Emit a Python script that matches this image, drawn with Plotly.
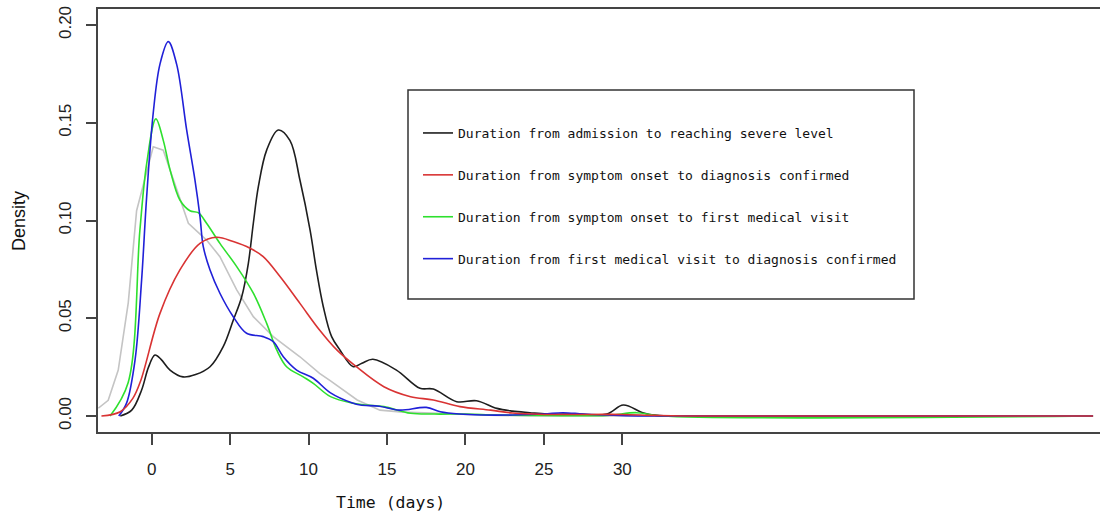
import plotly.graph_objects as go

# ---- data ----
black_x = [-2.0, -1.27, -0.64, -0.2, 0.21, 0.6, 1.17, 2.0, 2.8, 3.72, 4.56, 5.2, 5.74, 6.16, 6.48, 6.8, 7.33, 8.07, 8.81, 9.45, 10.1, 10.5, 10.94, 11.47, 12.0, 12.85, 13.4, 14.1, 15.6, 17.1, 17.95, 19.44, 20.7, 22.0, 23.0, 24.1, 25.2, 27.0, 29.0, 30.06, 31.3, 32.2, 34.0, 60.0]
black_y = [0.0, 0.003, 0.0133, 0.025, 0.0312, 0.029, 0.0235, 0.020, 0.0212, 0.0252, 0.0355, 0.049, 0.061, 0.078, 0.0986, 0.1173, 0.136, 0.1463, 0.141, 0.1207, 0.095, 0.0747, 0.0559, 0.0406, 0.0338, 0.0252, 0.027, 0.029, 0.0235, 0.0142, 0.0138, 0.0073, 0.0078, 0.0039, 0.0025, 0.0017, 0.001, 0.001, 0.001, 0.0056, 0.0017, 0.0003, 0.0, 0.0]

red_x = [-3.2, -2.0, -1.2, -0.7, 0.53, 1.8, 3.08, 4.14, 5.2, 6.27, 7.11, 8.18, 9.45, 10.7, 11.8, 13.0, 14.8, 16.5, 17.95, 19.65, 21.6, 23.0, 25.0, 28.0, 30.0, 32.0, 34.0, 60.0]
red_y = [0.0, 0.0022, 0.009, 0.018, 0.0525, 0.0747, 0.0883, 0.0914, 0.0892, 0.0858, 0.0815, 0.0713, 0.0576, 0.044, 0.0338, 0.0255, 0.015, 0.0099, 0.0082, 0.0048, 0.003, 0.0015, 0.0008, 0.0008, 0.0008, 0.0003, 0.0, 0.0]

green_x = [-2.65, -1.5, -0.75, -0.32, 0.27, 0.74, 1.17, 1.8, 2.44, 2.97, 3.5, 4.35, 5.42, 6.48, 7.33, 7.97, 8.6, 9.66, 10.3, 11.4, 12.85, 13.7, 14.8, 16.5, 18.0, 20.0, 22.0, 25.0, 29.0, 30.9, 32.5, 60.0]
green_y = [0.0, 0.017, 0.095, 0.129, 0.152, 0.141, 0.126, 0.1105, 0.105, 0.104, 0.0986, 0.0883, 0.0764, 0.0628, 0.0474, 0.0338, 0.0252, 0.020, 0.0167, 0.0099, 0.0065, 0.0056, 0.0048, 0.0014, 0.001, 0.001, 0.0005, 0.0003, 0.0003, 0.0017, 0.0, 0.0]

blue_x = [-2.1, -1.6, -1.06, -0.64, -0.32, 0.1, 0.53, 1.06, 1.59, 2.23, 2.76, 3.08, 3.29, 3.72, 4.35, 5.2, 6.05, 7.11, 7.75, 8.39, 9.24, 10.3, 11.4, 12.8, 13.3, 14.5, 15.8, 17.5, 18.4, 19.6, 21.0, 23.0, 25.0, 26.2, 27.5, 29.0, 31.0, 60.0]
blue_y = [0.0, 0.0066, 0.0286, 0.0696, 0.112, 0.155, 0.180, 0.1915, 0.180, 0.1463, 0.1207, 0.102, 0.0866, 0.0747, 0.0628, 0.0508, 0.0423, 0.0406, 0.038, 0.0303, 0.0235, 0.0193, 0.0118, 0.0066, 0.0056, 0.005, 0.003, 0.0044, 0.0022, 0.001, 0.0005, 0.0005, 0.001, 0.0017, 0.001, 0.0005, 0.0, 0.0]

gray_x = [-3.4, -2.77, -2.13, -1.49, -0.96, -0.43, 0.1, 0.74, 1.38, 1.91, 2.34, 3.5, 4.35, 5.42, 6.48, 7.75, 9.45, 10.7, 11.4, 13.1, 14.55, 16.0, 18.0, 20.0, 22.0, 25.0, 60.0]
gray_y = [0.004, 0.008, 0.0235, 0.058, 0.105, 0.121, 0.1377, 0.136, 0.1207, 0.1088, 0.0986, 0.090, 0.0815, 0.0645, 0.0508, 0.0406, 0.0303, 0.0218, 0.018, 0.0082, 0.003, 0.002, 0.0015, 0.0008, 0.0003, 0.0, 0.0]

names = [
    "Duration from admission to reaching severe level",
    "Duration from symptom onset to diagnosis confirmed",
    "Duration from symptom onset to first medical visit",
    "Duration from first medical visit to diagnosis confirmed",
]
x_ticks = [0, 5, 10, 15, 20, 25, 30]
y_ticks = [0.00, 0.05, 0.10, 0.15, 0.20]
y_tick_text = ["0.00", "0.05", "0.10", "0.15", "0.20"]

# ---- figure ----
W, H = 1100, 519
ML, MR, MT, MB = 98, 0, 9, 87
PW, PH = W - ML - MR, H - MT - MB

def px_x(p):
    return (p - ML) / PW

def px_y(p):
    return (H - MB - p) / PH

fig = go.Figure()
fig.add_trace(go.Scatter(x=gray_x, y=gray_y, mode="lines", showlegend=False,
                         line=dict(color="#c4c4c4", width=1.6), hoverinfo="skip"))
series = [
    (black_x, black_y, "#1e1e1e", names[0]),
    (red_x, red_y, "#d93333", names[1]),
    (green_x, green_y, "#2ee02e", names[2]),
    (blue_x, blue_y, "#2020d8", names[3]),
]
draw_order = [0, 2, 3, 1]  # red drawn last so it sits on top along the zero line
for i in draw_order:
    xs, ys, col, nm = series[i]
    fig.add_trace(go.Scatter(x=xs, y=ys, mode="lines", name=nm, legendgroup=nm,
                             legendrank=i + 1,
                             line=dict(color=col, width=1.6, shape="spline", smoothing=1.0)))

axis_font = dict(family="Liberation Sans, Arial, sans-serif", size=17, color="#222")

fig.update_layout(
    width=W, height=H,
    margin=dict(l=ML, r=MR, t=MT, b=MB),
    plot_bgcolor="white", paper_bgcolor="white",
    xaxis=dict(range=[-3.42, -3.42 + PW / 15.69], tickvals=x_ticks, ticks="outside",
               ticklen=11, tickwidth=1.5, tickcolor="#444", showline=True, linecolor="#444",
               linewidth=1.5, mirror=True, showgrid=False, zeroline=False,
               tickfont=axis_font, ticklabelstandoff=10),
    yaxis=dict(range=[-16 / 1955, 407 / 1955], tickvals=y_ticks, ticktext=y_tick_text,
               ticks="outside", ticklen=10, tickwidth=1.5, tickcolor="#444", showline=True,
               linecolor="#444", linewidth=1.5, mirror=False, showgrid=False,
               zeroline=False, tickfont=axis_font, tickangle=-90, ticklabelstandoff=8),
    legend=dict(x=px_x(418), y=px_y(118), xanchor="left", yanchor="top",
                bgcolor="rgba(0,0,0,0)", borderwidth=0, tracegroupgap=22,
                font=dict(family="DejaVu Sans Mono, monospace", size=13, color="#111"),
                traceorder="grouped"),
    font=dict(family="Liberation Sans, Arial, sans-serif"),
)

# legend frame
fig.add_shape(type="rect", xref="paper", yref="paper",
              x0=px_x(408), x1=px_x(914), y0=px_y(299), y1=px_y(90),
              line=dict(color="#333", width=1.5), fillcolor="rgba(0,0,0,0)", layer="above")

# axis titles
fig.add_annotation(text="Time (days)", xref="paper", yref="paper", x=px_x(390), y=px_y(502),
                   showarrow=False, xanchor="center", yanchor="middle",
                   font=dict(family="DejaVu Sans Mono, monospace", size=16.5, color="#111"))
fig.add_annotation(text="Density", xref="paper", yref="paper", x=px_x(19), y=px_y(221),
                   showarrow=False, xanchor="center", yanchor="middle", textangle=-90,
                   font=dict(family="Liberation Sans, Arial, sans-serif", size=18, color="#111"))

fig.write_html("out.html")
